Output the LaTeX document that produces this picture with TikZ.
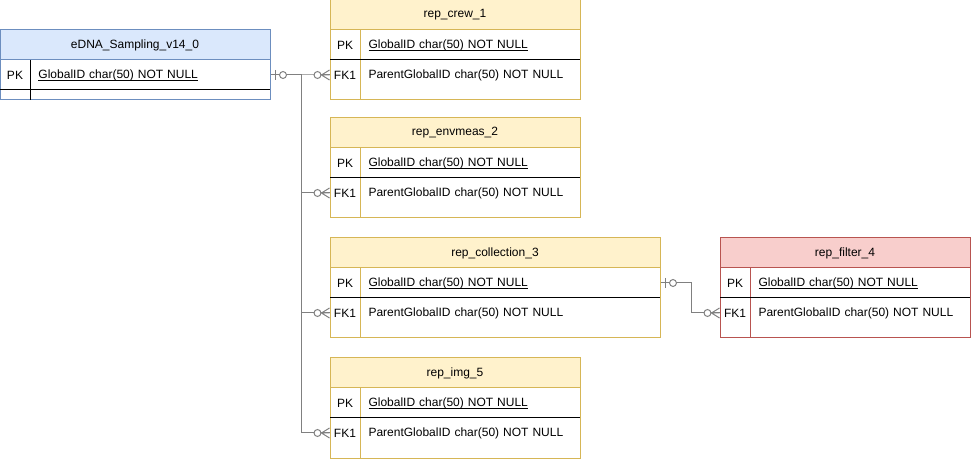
\documentclass[tikz,border=0pt]{standalone}
\usepackage{fontspec}
\setmainfont{Liberation Sans}

\definecolor{basefill}{HTML}{DAE8FC}
\definecolor{baseline}{HTML}{6C8EBF}
\definecolor{repfill}{HTML}{FFF2CC}
\definecolor{repline}{HTML}{D6B656}
\definecolor{filtfill}{HTML}{F8CECC}
\definecolor{filtline}{HTML}{B85450}
\definecolor{linkgray}{HTML}{808080}

% underlined key field
\newcommand{\keyfield}[1]{\underline{\smash{#1}}\vphantom{#1}}

\tikzset{
    keycell/.style={minimum width=22.5pt, minimum height=22.5pt},
    field/.style={anchor=west, minimum height=22.5pt, inner xsep=6pt, align=left},
    link/.style={draw=linkgray},
    zeromany/.pic={
        \draw[link] (-12,0) -- (0,0) (-8,0) -- (0,-5) (-8,0) -- (0,5);
        \draw[link, fill=white] (-12,0) circle (2.6pt);
    },
    zeroone/.pic={
        \draw[link] (4,-5) -- (4,5);
        \draw[link, fill=white] (12,0) circle (2.6pt);
    }
}

\begin{document}
\begin{tikzpicture}[x=0.75pt, y=-0.75pt, line width=0.75pt, every node/.style={font=\fontsize{9}{11}\selectfont, inner sep=0pt}]
    \useasboundingbox (0,0) rectangle (971,459);
    % Sampling table
    \filldraw[fill=white, draw=baseline] (0,30) rectangle (270,100);
    \filldraw[fill=basefill, draw=baseline] (0,30) rectangle (270,60);
    \draw[baseline] (30,60) -- (30,100);
    \draw[black] (0,90) -- (270,90);
    \node (edna-h) at (135,45) {eDNA\_Sampling\_v14\_0};
    \node[keycell] (edna-pk) at (15,75) {PK};
    \node[field, text width=168pt] (edna-pkf) at (30,75) {\keyfield{GlobalID char(50) NOT NULL}};

    % Repeat tables
    \foreach \n/\lbl/\y/\w in {crew/rep\_crew\_1/0/250, envmeas/rep\_envmeas\_2/118/250, collection/rep\_collection\_3/238/330, img/rep\_img\_5/358/250}
    {
        \pgfmathsetmacro\tw{(\w-30)*0.75-12}
        \filldraw[fill=white, draw=repline] (330,\y) rectangle ++(\w,100);
        \filldraw[fill=repfill, draw=repline] (330,\y) rectangle ++(\w,30);
        \draw[repline] (360,\y+30) -- (360,\y+100);
        \draw[black] (330,\y+60) -- ++(\w,0);
        \node (\n-h) at (330+\w/2,\y+15) {\lbl};
        \node[keycell] (\n-pk) at (345,\y+45) {PK};
        \node[field, text width=\tw pt] (\n-pkf) at (360,\y+45) {\keyfield{GlobalID char(50) NOT NULL}};
        \node[keycell] (\n-fk) at (345,\y+75) {FK1};
        \node[field, text width=\tw pt] (\n-fkf) at (360,\y+75) {ParentGlobalID char(50) NOT NULL};
    }

    % Filter table
    \filldraw[fill=white, draw=filtline] (720,238) rectangle (970,338);
    \filldraw[fill=filtfill, draw=filtline] (720,238) rectangle (970,268);
    \draw[filtline] (750,268) -- (750,338);
    \draw[black] (720,298) -- (970,298);
    \node (filter-h) at (845,253) {rep\_filter\_4};
    \node[keycell] (filter-pk) at (735,283) {PK};
    \node[field, text width=153pt] (filter-pkf) at (750,283) {\keyfield{GlobalID char(50) NOT NULL}};
    \node[keycell] (filter-fk) at (735,313) {FK1};
    \node[field, text width=153pt] (filter-fkf) at (750,313) {ParentGlobalID char(50) NOT NULL};

    % Relations
    \foreach \n in {crew, envmeas, collection, img}
    {
        \draw[link] (edna-pkf.east) -- ++(30,0) |- (\n-fk.west);
        \pic at (\n-fk.west) {zeromany};
    }
    \pic at (edna-pkf.east) {zeroone};

    \draw[link] (collection-pkf.east) -- ++(30,0) |- (filter-fk.west);
    \pic at (filter-fk.west) {zeromany};
    \pic at (collection-pkf.east) {zeroone};
\end{tikzpicture}
\end{document}
